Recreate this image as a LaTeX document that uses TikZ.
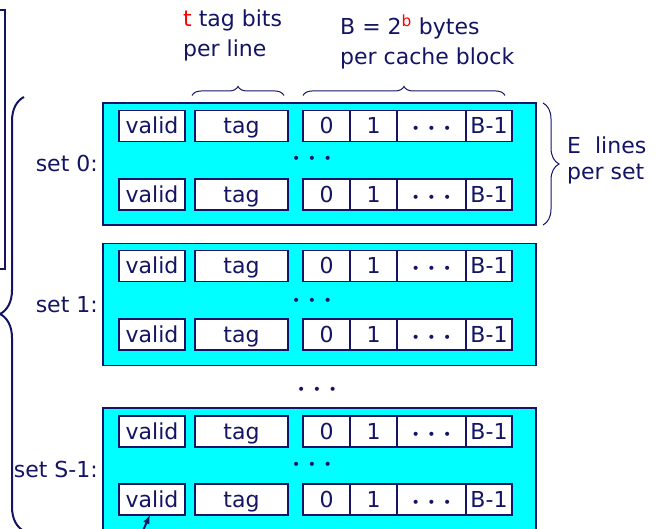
\documentclass[tikz,border=0pt]{standalone}
\usepackage{fontspec}
\setmainfont{DejaVu Sans}
\usetikzlibrary{decorations.pathreplacing,arrows,positioning}

\newcommand{\threedots}{{\fontsize{14}{14}\selectfont •\hspace{7.5pt}•\hspace{7.5pt}•}}

\begin{document}
\begin{tikzpicture}[x=1pt,y=1pt,font=\fontsize{22}{26}\selectfont]

\definecolor{inkcolor}{RGB}{20,20,100}
\definecolor{setcolor}{RGB}{0,255,255}
\definecolor{markcolor}{RGB}{255,0,0}

\tikzset{
  setbox/.style={draw=inkcolor, line width=1.3pt, fill=setcolor, minimum width=433, minimum height=122, inner sep=0, outer sep=0},
  cell/.style={draw=inkcolor, line width=1.2pt, fill=white, text=inkcolor, minimum height=31, inner sep=0, outer sep=0, text height=17pt, text depth=1pt},
  validcell/.style={cell, minimum width=66},
  tagcell/.style={cell, minimum width=93},
  bytecell/.style={cell, minimum width=47},
  dotcell/.style={cell, minimum width=69},
  lastcell/.style={cell, minimum width=46},
  plaintext/.style={text=inkcolor, inner sep=0},
  curly/.style={draw=inkcolor, decorate, decoration={brace, amplitude=#1}},
}

\useasboundingbox (0,0) rectangle (664,529);

    %% sets
    \node[setbox] (set0) at (319.5,365) {};
    \node[setbox] (set1) at (319.5,224.5) {};
    \node[setbox] (set2) at (319.5,60) {};
    \node[plaintext, left=5pt of set0] (set0label) {set 0:};
    \node[plaintext, left=5pt of set1] (set1label) {set 1:};
    \node[plaintext, left=5pt of set2] (set2label) {set S-1:};

    % set 0, lines
    \node[validcell] (valid0a) at (152,403) {valid};
    \node[tagcell, right=10pt of valid0a] (tag0a) {tag};
    \node[bytecell, right=15pt of tag0a] (byte0a) {0};
    \node[bytecell, right=0pt of byte0a] (one0a) {1};
    \node[dotcell, right=0pt of one0a] (dots0a) {\threedots};
    \node[lastcell, right=0pt of dots0a] (last0a) {B-1};
    \node[plaintext] (more0) at (312,369) {\threedots};
    \node[validcell] (valid0b) at (152,334.5) {valid};
    \node[tagcell, right=10pt of valid0b] (tag0b) {tag};
    \node[bytecell, right=15pt of tag0b] (byte0b) {0};
    \node[bytecell, right=0pt of byte0b] (one0b) {1};
    \node[dotcell, right=0pt of one0b] (dots0b) {\threedots};
    \node[lastcell, right=0pt of dots0b] (last0b) {B-1};

    % set 1, lines
    \node[validcell] (valid1a) at (152,263) {valid};
    \node[tagcell, right=10pt of valid1a] (tag1a) {tag};
    \node[bytecell, right=15pt of tag1a] (byte1a) {0};
    \node[bytecell, right=0pt of byte1a] (one1a) {1};
    \node[dotcell, right=0pt of one1a] (dots1a) {\threedots};
    \node[lastcell, right=0pt of dots1a] (last1a) {B-1};
    \node[plaintext] (more1) at (312,227) {\threedots};
    \node[validcell] (valid1b) at (152,194.5) {valid};
    \node[tagcell, right=10pt of valid1b] (tag1b) {tag};
    \node[bytecell, right=15pt of tag1b] (byte1b) {0};
    \node[bytecell, right=0pt of byte1b] (one1b) {1};
    \node[dotcell, right=0pt of one1b] (dots1b) {\threedots};
    \node[lastcell, right=0pt of dots1b] (last1b) {B-1};

    \node[plaintext] (moresets) at (317,138) {\threedots};

    % set S-1, lines
    \node[validcell] (valid2a) at (152,97.5) {valid};
    \node[tagcell, right=10pt of valid2a] (tag2a) {tag};
    \node[bytecell, right=15pt of tag2a] (byte2a) {0};
    \node[bytecell, right=0pt of byte2a] (one2a) {1};
    \node[dotcell, right=0pt of one2a] (dots2a) {\threedots};
    \node[lastcell, right=0pt of dots2a] (last2a) {B-1};
    \node[plaintext] (more2) at (312,63) {\threedots};
    \node[validcell] (valid2b) at (152,29.5) {valid};
    \node[tagcell, right=10pt of valid2b] (tag2b) {tag};
    \node[bytecell, right=15pt of tag2b] (byte2b) {0};
    \node[bytecell, right=0pt of byte2b] (one2b) {1};
    \node[dotcell, right=0pt of one2b] (dots2b) {\threedots};
    \node[lastcell, right=0pt of dots2b] (last2b) {B-1};

    % braces and their labels
    \draw[curly=9, line width=1pt] ([xshift=-3pt,yshift=15pt]tag0a.north west) -- ([xshift=-4pt,yshift=15pt]tag0a.north east);
    \node[plaintext, anchor=west, align=left, font=\fontsize{22}{30}\selectfont] (tagbits) at (183,494) {\textcolor{markcolor}{t} tag bits\\per line};
    \draw[curly=9, line width=1pt] ([yshift=15pt]byte0a.north west) -- ([xshift=-7pt,yshift=15pt]last0a.north east);
    \node[plaintext, anchor=west, align=left, font=\fontsize{22}{30}\selectfont] (blockbytes) at (340,487) {B = 2\textsuperscript{\textcolor{markcolor}{b}} bytes\\per cache block};
    \draw[curly=16, line width=1pt] ([xshift=7pt]set0.north east) -- ([xshift=7pt]set0.south east);
    \node[plaintext, anchor=west, align=left, font=\fontsize{22}{26}\selectfont] (linesperset) at (567,369) {E\ \ lines\\per set};

    % whole cache
    \draw[curly=24, line width=2pt] (24,-2) -- (24,432);
    \draw[inkcolor, line width=2pt] (0,519) -- (5,519) -- (5,260) -- (0,260);

    % pointer to valid bit
    \coordinate (ptr) at (141,-6);
    \draw[-latex, inkcolor, line width=2pt] (ptr) -- ([xshift=-2pt]valid2b.south);
  \end{tikzpicture}
\end{document}
